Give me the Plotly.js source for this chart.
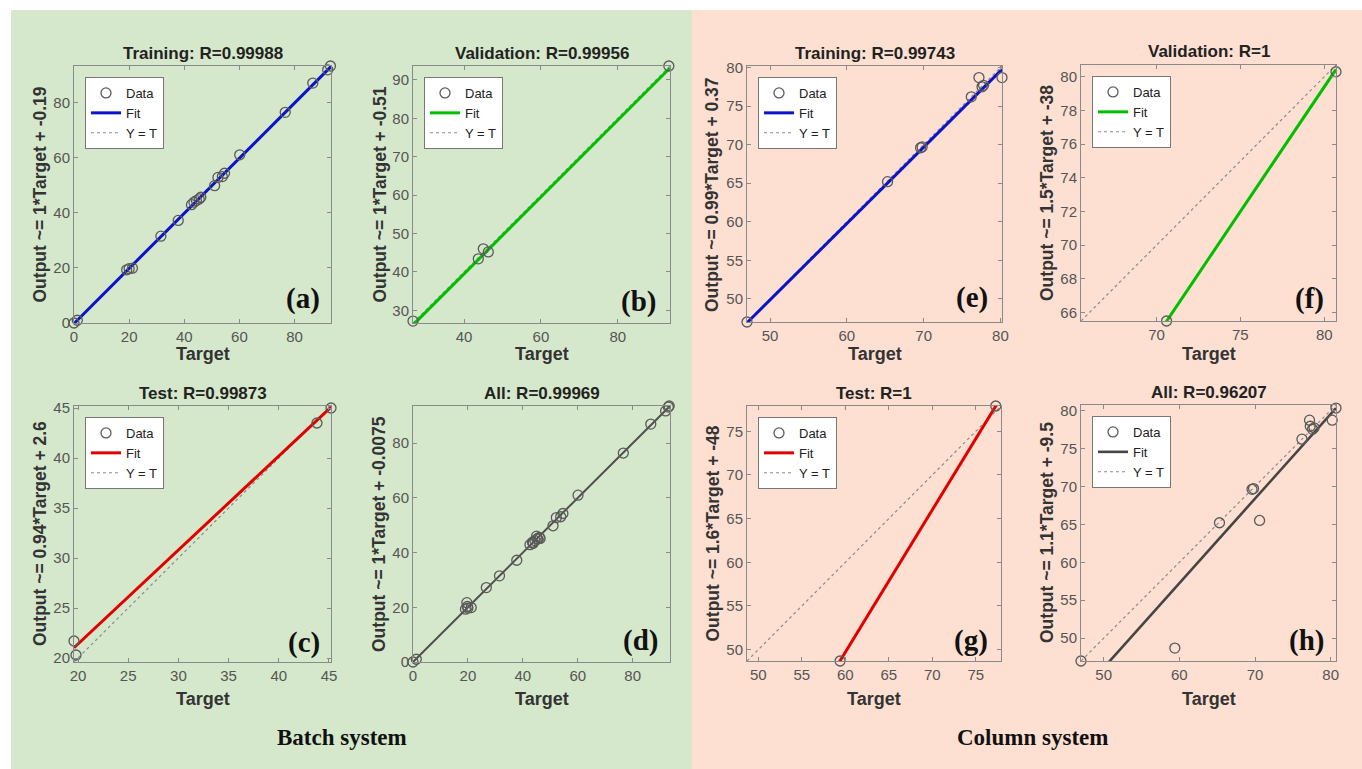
<!DOCTYPE html>
<html>
<head>
<meta charset="utf-8">
<script src="https://cdn.plot.ly/plotly-3.0.1.min.js"></script>
<style>html,body{margin:0;padding:0;background:#fff;}#chart{width:1362px;height:769px;}</style>
</head>
<body>
<div id="chart"></div>
<script>
// ---------- DATA ----------
// Batch system
const batchTrainTarget = [0, 1.2, 19.1, 20.0, 21.2, 31.5, 37.8, 42.6, 43.5, 44.4, 45.4, 46.0, 51.0, 52.2, 53.8, 54.6, 60.1, 76.6, 86.6, 92.0, 93.0];
const batchTrainOutput = [0, 1.0, 19.3, 19.7, 19.9, 31.5, 37.2, 42.9, 43.8, 44.4, 45.0, 45.6, 49.8, 52.8, 53.1, 54.3, 61.0, 76.4, 87.0, 91.8, 93.2];
const batchValTarget = [26.7, 43.7, 45.0, 46.3, 93.3];
const batchValOutput = [27.2, 43.4, 46.0, 45.2, 93.6];
const batchTestTarget = [19.6, 19.8, 43.8, 45.2];
const batchTestOutput = [21.7, 20.3, 43.5, 45.0];
// Column system
const colTrainTarget = [47.0, 65.3, 69.6, 69.8, 76.2, 77.2, 77.6, 77.8, 80.2];
const colTrainOutput = [47.0, 65.2, 69.6, 69.7, 76.2, 78.7, 77.5, 77.7, 78.7];
const colValTarget = [70.6, 80.7];
const colValOutput = [65.5, 80.3];
const colTestTarget = [59.4, 77.3];
const colTestOutput = [48.7, 77.9];

// panel order: a b c d e f g h
const panelLetters = ['(a)', '(b)', '(c)', '(d)', '(e)', '(f)', '(g)', '(h)'];
const panelTitles = ['Training: R=0.99988', 'Validation: R=0.99956', 'Test: R=0.99873', 'All: R=0.99969',
                     'Training: R=0.99743', 'Validation: R=1', 'Test: R=1', 'All: R=0.96207'];
const yTitles = ['Output ~= 1*Target + -0.19', 'Output ~= 1*Target + -0.51', 'Output ~= 0.94*Target + 2.6',
                 'Output ~= 1*Target + -0.0075', 'Output ~= 0.99*Target + 0.37', 'Output ~= 1.5*Target + -38',
                 'Output ~= 1.6*Target + -48', 'Output ~= 1.1*Target + -9.5'];
const fitSlope = [1.0, 1.0, 0.94, 1.0, 0.99, 1.48, 1.63, 1.114];
const fitIntercept = [-0.19, -0.51, 2.6, -0.0075, 0.37, -39.0, -48.1, -9.6];
const legendLabels = ['Data', 'Fit', 'Y = T'];
const systemLabels = ['Batch system', 'Column system'];

const targets = [batchTrainTarget, batchValTarget, batchTestTarget,
                 batchTrainTarget.concat(batchValTarget, batchTestTarget),
                 colTrainTarget, colValTarget, colTestTarget,
                 colTrainTarget.concat(colValTarget, colTestTarget)];
const outputs = [batchTrainOutput, batchValOutput, batchTestOutput,
                 batchTrainOutput.concat(batchValOutput, batchTestOutput),
                 colTrainOutput, colValOutput, colTestOutput,
                 colTrainOutput.concat(colValOutput, colTestOutput)];

// ---------- STYLE / LAYOUT ----------
const W = 1362, H = 769;
const px = v => v / W, py = v => 1 - v / H;
const SANS = 'Arial, "Liberation Sans", sans-serif';
const SERIF = '"Times New Roman", "Liberation Serif", serif';
const fitColors = ['#0a14c8', '#00bf00', '#e00000', '#505050', '#0a14c8', '#00bf00', '#e00000', '#454545'];
const fitWidths = [3, 3, 3, 2, 3, 3, 3, 2.6];
const dticks = [[20, 20], [20, 10], [5, 5], [20, 20], [10, 5], [5, 2], [5, 5], [10, 5]];
// boxes: [left, right, top, bottom] in px
const boxes = [[74, 331, 66, 323], [413, 670, 66, 323], [74, 331, 406, 662], [413, 670, 406, 662],
               [747, 1002, 66, 322], [1081, 1336, 65, 321], [747, 1001, 406, 661], [1081, 1336, 405, 661]];
const labelPos = [[303, 299], [638, 301], [304, 642], [640, 640], [972, 297], [1309, 298], [971, 640], [1306, 640]];
const xTitleY = [354, 354, 699, 699, 354, 354, 699, 699];
const yTitleX = [40, 380, 40, 379, 712, 1047, 712, 1047];
const hasLegend = [true, true, true, false, true, true, true, true];

const traces = [];
const layout = {
  width: W, height: H,
  margin: {l: 0, r: 0, t: 0, b: 0},
  paper_bgcolor: '#ffffff', plot_bgcolor: '#ffffff',
  font: {family: SANS, size: 15, color: '#555555'},
  shapes: [
    {type: 'rect', xref: 'paper', yref: 'paper', x0: px(11), x1: px(692), y0: 0, y1: py(10), fillcolor: '#d6e8cb', line: {width: 0}, layer: 'below'},
    {type: 'rect', xref: 'paper', yref: 'paper', x0: px(692), x1: 1, y0: 0, y1: py(10), fillcolor: '#fde0d2', line: {width: 0}, layer: 'below'}
  ],
  annotations: []
};

let legendCount = 0;
for (let i = 0; i < 8; i++) {
  const n = i === 0 ? '' : String(i + 1);
  const xa = 'x' + n, ya = 'y' + n;
  const T = targets[i], O = outputs[i];
  const lo = Math.min(Math.min(...T), Math.min(...O));
  const hi = Math.max(Math.max(...T), Math.max(...O));
  const [l, r, t, b] = boxes[i];
  let legId = null;
  if (hasLegend[i]) {
    legendCount++;
    legId = legendCount === 1 ? 'legend' : 'legend' + legendCount;
    layout[legId] = {
      x: px(l + 11), y: py(t + 11), xanchor: 'left', yanchor: 'top', xref: 'paper', yref: 'paper',
      bgcolor: '#ffffff', bordercolor: '#777777', borderwidth: 1,
      font: {family: SANS, size: 13, color: '#222222'}, tracegroupgap: 0, itemwidth: 30, traceorder: 'normal'
    };
  }
  const common = {xaxis: xa, yaxis: ya, showlegend: hasLegend[i]};
  if (legId) common.legend = legId;
  traces.push(Object.assign({
    type: 'scatter', mode: 'lines', x: [lo, hi], y: [lo, hi], name: legendLabels[2], legendrank: 3,
    line: {color: '#8c8c8c', width: 1.2, dash: 'dot'}, hoverinfo: 'skip'
  }, common));
  traces.push(Object.assign({
    type: 'scatter', mode: 'lines', x: [lo, hi], y: [fitSlope[i] * lo + fitIntercept[i], fitSlope[i] * hi + fitIntercept[i]],
    name: legendLabels[1], legendrank: 2, line: {color: fitColors[i], width: fitWidths[i]}
  }, common));
  traces.push(Object.assign({
    type: 'scatter', mode: 'markers', x: T, y: O, name: legendLabels[0], legendrank: 1, cliponaxis: false,
    marker: {symbol: 'circle-open', size: 10, color: '#5a5a5a', line: {width: 1.3, color: '#5a5a5a'}}
  }, common));

  const axCommon = {
    range: [lo, hi], showgrid: false, zeroline: false, showline: true, linecolor: '#8a8a8a', linewidth: 1,
    mirror: 'ticks', ticks: 'inside', ticklen: 4, tickcolor: '#8a8a8a',
    tickfont: {family: SANS, size: 15, color: '#555555'}, automargin: false, fixedrange: true
  };
  layout['xaxis' + n] = Object.assign({}, axCommon, {domain: [px(l), px(r)], anchor: ya, dtick: dticks[i][0], tick0: 0});
  layout['yaxis' + n] = Object.assign({}, axCommon, {domain: [py(b), py(t)], anchor: xa, dtick: dticks[i][1], tick0: 0});

  const cx = (l + r) / 2, cy = (t + b) / 2;
  layout.annotations.push({xref: 'paper', yref: 'paper', x: px(cx), y: py(t - 13), text: '<b>' + panelTitles[i] + '</b>',
    showarrow: false, xanchor: 'center', yanchor: 'middle', font: {family: SANS, size: 17, color: '#222222'}});
  layout.annotations.push({xref: 'paper', yref: 'paper', x: px(cx), y: py(xTitleY[i]), text: '<b>Target</b>',
    showarrow: false, xanchor: 'center', yanchor: 'middle', font: {family: SANS, size: 18, color: '#333333'}});
  layout.annotations.push({xref: 'paper', yref: 'paper', x: px(yTitleX[i]), y: py(cy), text: '<b>' + yTitles[i] + '</b>',
    textangle: -90, showarrow: false, xanchor: 'center', yanchor: 'middle', font: {family: SANS, size: 17.5, color: '#333333'}});
  layout.annotations.push({xref: 'paper', yref: 'paper', x: px(labelPos[i][0]), y: py(labelPos[i][1]), text: '<b>' + panelLetters[i] + '</b>',
    showarrow: false, xanchor: 'center', yanchor: 'middle', font: {family: SERIF, size: 29, color: '#111111'}});
}
layout.annotations.push({xref: 'paper', yref: 'paper', x: px(342), y: py(737), text: '<b>' + systemLabels[0] + '</b>',
  showarrow: false, xanchor: 'center', yanchor: 'middle', font: {family: SERIF, size: 23, color: '#111111'}});
layout.annotations.push({xref: 'paper', yref: 'paper', x: px(1032), y: py(737), text: '<b>' + systemLabels[1] + '</b>',
  showarrow: false, xanchor: 'center', yanchor: 'middle', font: {family: SERIF, size: 23, color: '#111111'}});

Plotly.newPlot('chart', traces, layout, {displayModeBar: false, staticPlot: true});
</script>
</body>
</html>
